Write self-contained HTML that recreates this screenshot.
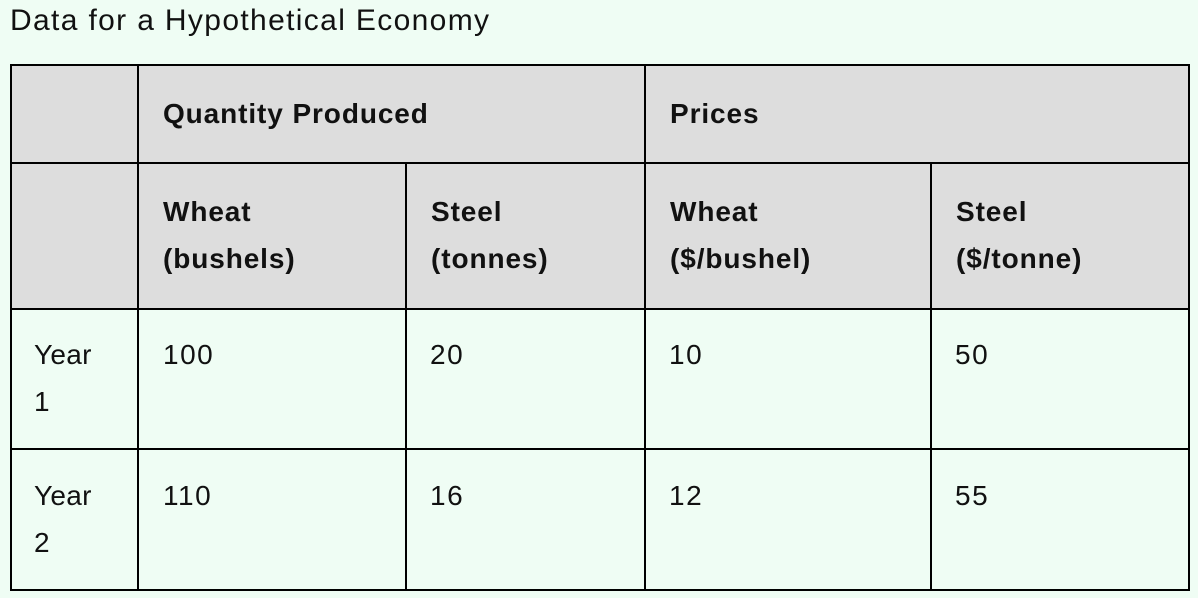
<!DOCTYPE html>
<html>
<head>
<meta charset="utf-8">
<style>
  html, body { margin:0; padding:0; }
  body { width:1198px; height:598px; background:#effdf4; position:relative; overflow:hidden;
         font-family:"Liberation Sans", Arial, sans-serif; color:#111; }
  .t { position:absolute; white-space:nowrap; font-size:28px; line-height:28px; letter-spacing:0.3px; }
  .n { letter-spacing:1.5px; }
  .b { font-weight:bold; letter-spacing:0.9px; }
  .h { position:absolute; background:#000; height:2px; }
  .v { position:absolute; background:#000; width:2px; }
  .g { position:absolute; background:#dddddd; }
</style>
</head>
<body>
  <div class="t" style="left:10px; top:6px; font-size:30px; line-height:30px; letter-spacing:1.35px;">Data for a Hypothetical Economy</div>

  <div class="g" style="left:12px; top:66px; width:1176px; height:242px;"></div>

  <div class="h" style="left:10px; top:64px; width:1180px;"></div>
  <div class="h" style="left:10px; top:162px; width:1180px;"></div>
  <div class="h" style="left:10px; top:308px; width:1180px;"></div>
  <div class="h" style="left:10px; top:448px; width:1180px;"></div>
  <div class="h" style="left:10px; top:589px; width:1180px;"></div>

  <div class="v" style="left:10px; top:64px; height:527px;"></div>
  <div class="v" style="left:137px; top:64px; height:527px;"></div>
  <div class="v" style="left:405px; top:162px; height:429px;"></div>
  <div class="v" style="left:644px; top:64px; height:527px;"></div>
  <div class="v" style="left:930px; top:162px; height:429px;"></div>
  <div class="v" style="left:1188px; top:64px; height:527px;"></div>

  <div class="t b" style="left:163px; top:100px;">Quantity Produced</div>
  <div class="t b" style="left:670px; top:100px;">Prices</div>

  <div class="t b" style="left:163px; top:198px;">Wheat</div>
  <div class="t b" style="left:163px; top:245px;">(bushels)</div>
  <div class="t b" style="left:431px; top:198px;">Steel</div>
  <div class="t b" style="left:431px; top:245px;">(tonnes)</div>
  <div class="t b" style="left:670px; top:198px;">Wheat</div>
  <div class="t b" style="left:670px; top:245px;">($/bushel)</div>
  <div class="t b" style="left:956px; top:198px;">Steel</div>
  <div class="t b" style="left:956px; top:245px;">($/tonne)</div>

  <div class="t" style="left:34px; top:341px;">Year</div>
  <div class="t" style="left:34px; top:388px;">1</div>
  <div class="t n" style="left:163px; top:341px;">100</div>
  <div class="t n" style="left:430px; top:341px;">20</div>
  <div class="t n" style="left:669px; top:341px;">10</div>
  <div class="t n" style="left:955px; top:341px;">50</div>

  <div class="t" style="left:34px; top:482px;">Year</div>
  <div class="t" style="left:34px; top:529px;">2</div>
  <div class="t n" style="left:163px; top:482px;">110</div>
  <div class="t n" style="left:430px; top:482px;">16</div>
  <div class="t n" style="left:669px; top:482px;">12</div>
  <div class="t n" style="left:955px; top:482px;">55</div>
</body>
</html>
